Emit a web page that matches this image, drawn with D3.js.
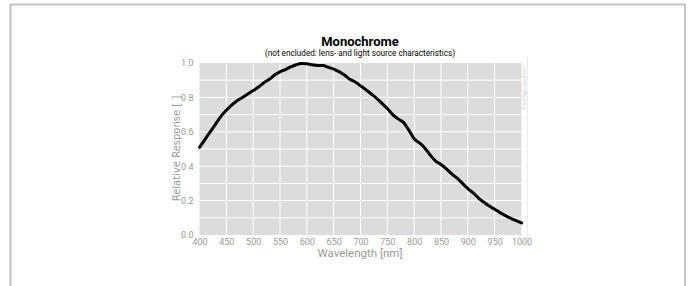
<!DOCTYPE html>
<html><head><meta charset="utf-8">
<script src="https://cdn.jsdelivr.net/npm/d3@7"></script>
<style>
body{margin:0;background:#fff;}
text{font-family:"Roboto","Liberation Sans",sans-serif;}
</style></head>
<body>
<svg id="chart" width="694" height="286"></svg>
<script>
const wavelengths = [400,410,420,430,440,450,460,470,480,490,500,510,520,530,540,550,560,570,580,590,600,610,620,630,640,650,660,670,680,690,700,710,720,730,740,750,760,770,780,790,800,810,820,830,840,850,860,870,880,890,900,910,920,930,940,950,960,970,980,990,1000];
const response = [0.51,0.555,0.60,0.645,0.69,0.725,0.755,0.78,0.80,0.82,0.84,0.86,0.885,0.905,0.93,0.948,0.962,0.977,0.99,0.997,0.995,0.99,0.985,0.985,0.975,0.965,0.95,0.93,0.905,0.89,0.868,0.845,0.82,0.795,0.765,0.735,0.70,0.675,0.655,0.61,0.56,0.535,0.505,0.465,0.43,0.41,0.385,0.355,0.33,0.30,0.27,0.245,0.215,0.19,0.168,0.15,0.13,0.113,0.097,0.083,0.07];
const xTicks = [400,450,500,550,600,650,700,750,800,850,900,950,1000];
const yTicks = [0.0,0.2,0.4,0.6,0.8,1.0];
const yGrid = [0.1,0.2,0.3,0.4,0.5,0.6,0.7,0.8,0.9];

const svg = d3.select("#chart");
svg.append("path").attr("d","M10.5,286 V4.5 H685 V286").attr("fill","none").attr("stroke","#c4c4c4").attr("stroke-width",2);

const L=199.5, R=521.5, T=63, B=235;
const x = d3.scaleLinear().domain([400,1000]).range([L,R]);
const y = d3.scaleLinear().domain([0,1]).range([B,T]);

svg.append("rect").attr("x",L).attr("y",T).attr("width",R-L).attr("height",B-T).attr("fill","#dcdcdc");
svg.append("g").selectAll("line").data(xTicks.slice(1,-1)).join("line")
  .attr("x1",d=>x(d)).attr("x2",d=>x(d)).attr("y1",T).attr("y2",B)
  .attr("stroke","#fff").attr("stroke-width",1);
svg.append("g").selectAll("line").data(yGrid).join("line")
  .attr("x1",L).attr("x2",R).attr("y1",d=>y(d)).attr("y2",d=>y(d))
  .attr("stroke","#fff").attr("stroke-width",1);

svg.append("line").attr("x1",527.5).attr("x2",527.5).attr("y1",56).attr("y2",242).attr("stroke","#ececec").attr("stroke-width",1);

const xAxis = svg.append("g").attr("transform",`translate(0,${B})`)
  .call(d3.axisBottom(x).tickValues(xTicks).tickSize(0).tickPadding(4).tickFormat(d3.format("d")));
xAxis.select(".domain").remove();
xAxis.selectAll("text").attr("fill","#999").attr("font-size",9).style("font-family","Roboto,sans-serif");

const yAxis = svg.append("g").attr("transform",`translate(${L},0)`)
  .call(d3.axisLeft(y).tickValues(yTicks).tickSize(0).tickPadding(6).tickFormat(d3.format(".1f")));
yAxis.select(".domain").remove();
yAxis.selectAll("text").attr("fill","#999").attr("font-size",9).style("font-family","Roboto,sans-serif");

const line = d3.line().x((d,i)=>x(wavelengths[i])).y(d=>y(d)).curve(d3.curveMonotoneX);
svg.append("path").datum(response).attr("d",line).attr("fill","none").attr("stroke","#000").attr("stroke-width",3).attr("stroke-linejoin","round").attr("stroke-linecap","round");

svg.append("text").attr("x",360).attr("y",46).attr("text-anchor","middle").attr("font-size",13).attr("font-weight","bold").attr("fill","#000").text("Monochrome");
svg.append("text").attr("x",360).attr("y",56).attr("text-anchor","middle").attr("font-size",8.2).attr("fill","#000").text("(not encluded: lens- and light source characteristics)");
svg.append("text").attr("x",360).attr("y",257).attr("text-anchor","middle").attr("font-size",11.5).attr("fill","#999").text("Wavelength [nm]");
svg.append("text").attr("transform","translate(180,148.5) rotate(-90)").attr("text-anchor","middle").attr("fill","#999").style("font-family","'DejaVu Sans',sans-serif").attr("font-size",10).text("Relative Response [ ]");
svg.append("text").attr("transform","translate(526,88) rotate(-90)").attr("text-anchor","middle").attr("font-size",3.5).attr("fill","#bbb").text("© 2021 Basler GmbH, 2021");
</script>
</body></html>
